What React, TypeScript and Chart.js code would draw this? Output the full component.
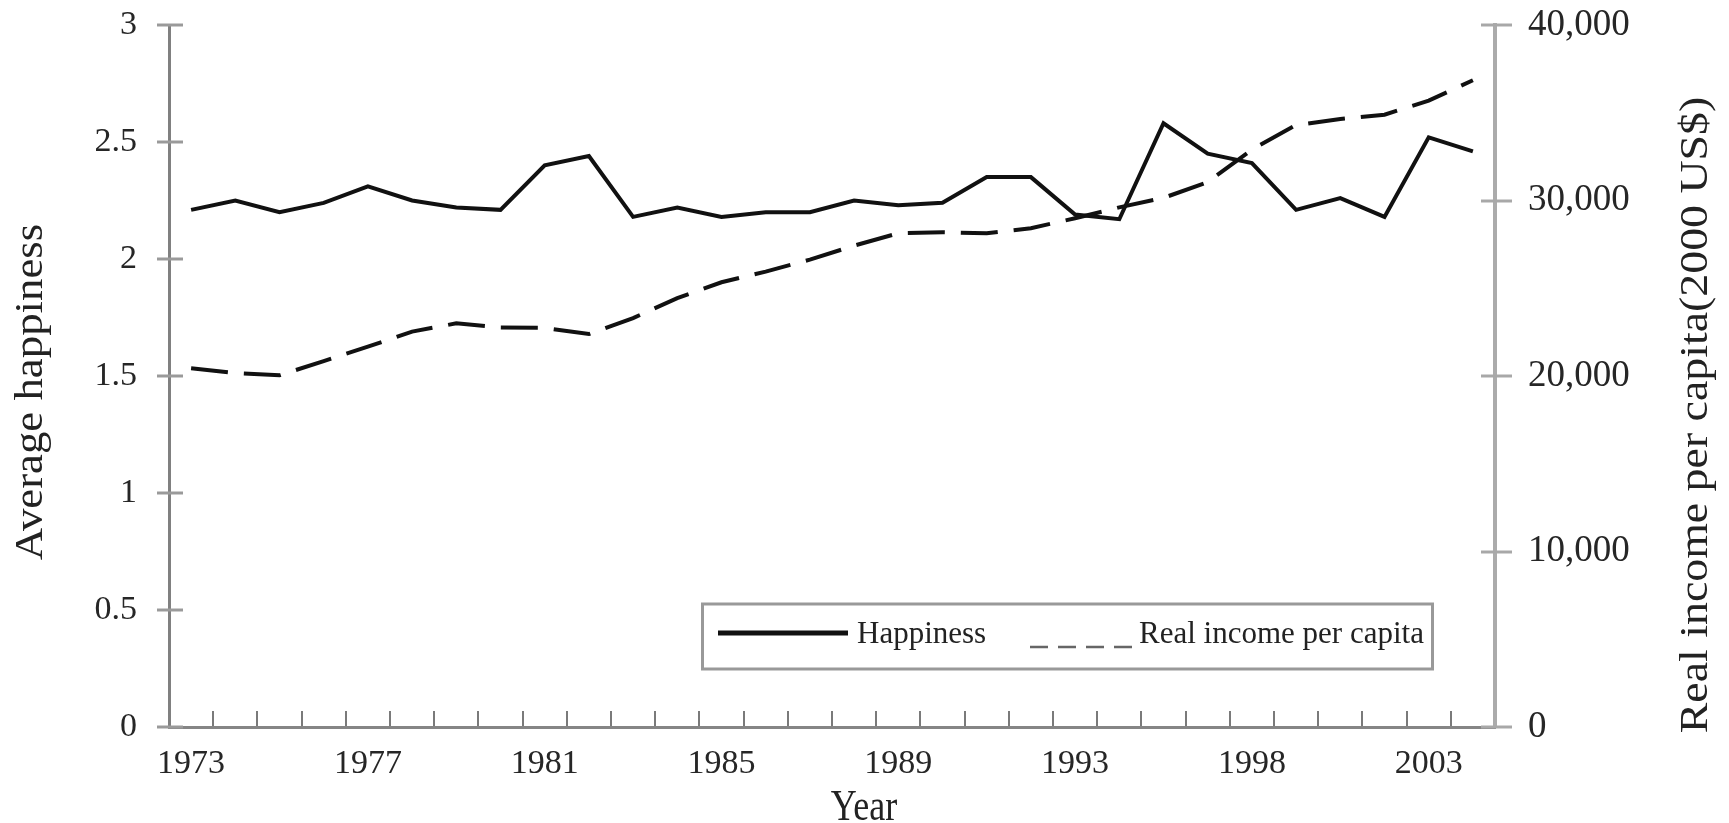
import React, { useEffect, useRef } from 'react';
import { Chart, registerables } from 'chart.js';

Chart.register(...registerables);

// Categories (survey years; only every 4th label is shown on the axis)
const years = [
  '1973', '1974', '1975', '1976', '1977', '1978', '1979', '1980', '1981', '1982',
  '1983', '1984', '1985', '1986', '1987', '1988', '1989', '1990', '1991', '1992',
  '1993', '1994', '1996', '1997', '1998', '1999', '2000', '2002', '2003', '2004',
];

// Average happiness (left axis)
const happiness = [
  2.21, 2.25, 2.20, 2.24, 2.31, 2.25, 2.22, 2.21, 2.40, 2.44,
  2.18, 2.22, 2.18, 2.20, 2.20, 2.25, 2.23, 2.24, 2.35, 2.35,
  2.19, 2.17, 2.58, 2.45, 2.41, 2.21, 2.26, 2.18, 2.52, 2.46,
];

// Real income per capita, 2000 US$ (right axis)
const income = [
  20440, 20170, 20040, 20850, 21670, 22530, 23000, 22770, 22740, 22390,
  23300, 24440, 25340, 25950, 26630, 27430, 28130, 28190, 28130, 28420,
  28990, 29610, 30150, 31050, 32900, 34300, 34640, 34890, 35690, 36850,
];

const shownEvery = 4;
const leftMax = 3;
const leftStep = 0.5;
const rightMax = 40000;
const rightStep = 10000;

const FONT = "'Liberation Serif', 'Times New Roman', serif";

export default function App() {
  const ref = useRef<HTMLCanvasElement>(null);

  useEffect(() => {
    const canvas = ref.current;
    if (!canvas) return;

    const decor = {
      id: 'decor',
      afterDraw(chart: any) {
        const ctx = chart.ctx as CanvasRenderingContext2D;
        const yL = chart.scales.y;
        const yR = chart.scales.y1;
        ctx.save();

        // y-axis tick marks crossing the axis lines
        ctx.lineWidth = 3;
        ctx.strokeStyle = '#9a9a9a';
        yL.ticks.forEach((t: any) => {
          const py = Math.round(yL.getPixelForValue(t.value));
          ctx.beginPath();
          ctx.moveTo(yL.right - 12, py);
          ctx.lineTo(yL.right + 14, py);
          ctx.stroke();
        });
        ctx.strokeStyle = '#a8a8a8';
        yR.ticks.forEach((t: any) => {
          const py = Math.round(yR.getPixelForValue(t.value));
          ctx.beginPath();
          ctx.moveTo(yR.left - 14, py);
          ctx.lineTo(yR.left + 17, py);
          ctx.stroke();
        });

        // Legend box
        ctx.fillStyle = '#ffffff';
        ctx.fillRect(701, 603, 733, 67);
        ctx.strokeStyle = '#999999';
        ctx.lineWidth = 3;
        ctx.strokeRect(702.5, 604, 730, 65);

        ctx.strokeStyle = '#111111';
        ctx.lineWidth = 5;
        ctx.beginPath();
        ctx.moveTo(718, 633);
        ctx.lineTo(848, 633);
        ctx.stroke();

        ctx.fillStyle = '#222222';
        ctx.font = `31px ${FONT}`;
        ctx.textAlign = 'left';
        ctx.textBaseline = 'alphabetic';
        ctx.fillText('Happiness', 857, 643);

        ctx.strokeStyle = '#666666';
        ctx.lineWidth = 2.5;
        ctx.setLineDash([18, 10]);
        ctx.beginPath();
        ctx.moveTo(1030, 647);
        ctx.lineTo(1138, 647);
        ctx.stroke();
        ctx.setLineDash([]);
        ctx.fillText('Real income per capita', 1139, 643);

        // Axis titles
        ctx.fillStyle = '#222222';
        ctx.textAlign = 'center';
        ctx.textBaseline = 'alphabetic';

        ctx.save();
        ctx.font = `40px ${FONT}`;
        ctx.translate(42, 392);
        ctx.rotate(-Math.PI / 2);
        ctx.scale(1.12, 1);
        ctx.fillText('Average happiness', 0, 0);
        ctx.restore();

        ctx.save();
        ctx.font = `40px ${FONT}`;
        ctx.translate(1707, 415);
        ctx.rotate(-Math.PI / 2);
        ctx.scale(1.146, 1);
        ctx.fillText('Real income per capita(2000 US$)', 0, 0);
        ctx.restore();

        ctx.save();
        ctx.font = `36px ${FONT}`;
        ctx.translate(864, 820);
        ctx.scale(1, 1.25);
        ctx.fillText('Year', 0, 0);
        ctx.restore();

        ctx.restore();
      },
    };

    const chart = new Chart(canvas, {
      type: 'line',
      data: {
        labels: years,
        datasets: [
          {
            label: 'Happiness',
            data: happiness,
            yAxisID: 'y',
            borderColor: '#111111',
            backgroundColor: '#111111',
            borderWidth: 4,
            pointRadius: 0,
            tension: 0,
            fill: false,
          },
          {
            label: 'Real income per capita',
            data: income,
            yAxisID: 'y1',
            borderColor: '#111111',
            backgroundColor: '#111111',
            borderWidth: 4,
            borderDash: [37, 16],
            pointRadius: 0,
            tension: 0,
            fill: false,
          },
        ],
      },
      options: {
        animation: false,
        responsive: false,
        devicePixelRatio: 1,
        layout: { padding: { top: 25, left: 0, right: 0, bottom: 0 } },
        plugins: {
          legend: { display: false },
          tooltip: { enabled: false },
          title: { display: false },
        },
        scales: {
          x: {
            type: 'category',
            offset: true,
            grid: {
              display: true,
              drawOnChartArea: false,
              drawTicks: true,
              tickLength: -16,
              offset: true,
              color: '#7a7a7a',
              lineWidth: 2,
            },
            border: { display: true, color: '#858585', width: 3 },
            ticks: {
              autoSkip: false,
              maxRotation: 0,
              minRotation: 0,
              padding: 33,
              color: '#262626',
              font: { family: FONT, size: 34 },
              callback: (_v: any, i: number) => (i % shownEvery === 0 ? years[i] : ''),
            },
            afterFit: (s: any) => {
              s.height = 96;
            },
          },
          y: {
            position: 'left',
            min: 0,
            max: leftMax,
            grid: { display: false, drawTicks: false },
            border: { display: true, color: '#808080', width: 3 },
            ticks: {
              stepSize: leftStep,
              padding: 32,
              color: '#262626',
              font: { family: FONT, size: 34 },
              callback: (v: any) => String(Number(v)),
            },
            afterFit: (s: any) => {
              s.width = 169;
              s.paddingTop = 0;
              s.paddingBottom = 0;
            },
          },
          y1: {
            position: 'right',
            min: 0,
            max: rightMax,
            grid: { display: false, drawTicks: false },
            border: { display: true, color: '#ababab', width: 4 },
            ticks: {
              stepSize: rightStep,
              padding: 33,
              color: '#262626',
              font: { family: FONT, size: 37 },
              callback: (v: any) => Number(v).toLocaleString('en-US'),
            },
            afterFit: (s: any) => {
              s.width = 234;
              s.paddingTop = 0;
              s.paddingBottom = 0;
            },
          },
        },
      },
      plugins: [decor],
    } as any);

    return () => {
      chart.destroy();
    };
  }, []);

  return (
    <canvas
      ref={ref}
      width={1729}
      height={823}
      style={{ position: 'absolute', left: 0, top: 0, display: 'block' }}
    />
  );
}
